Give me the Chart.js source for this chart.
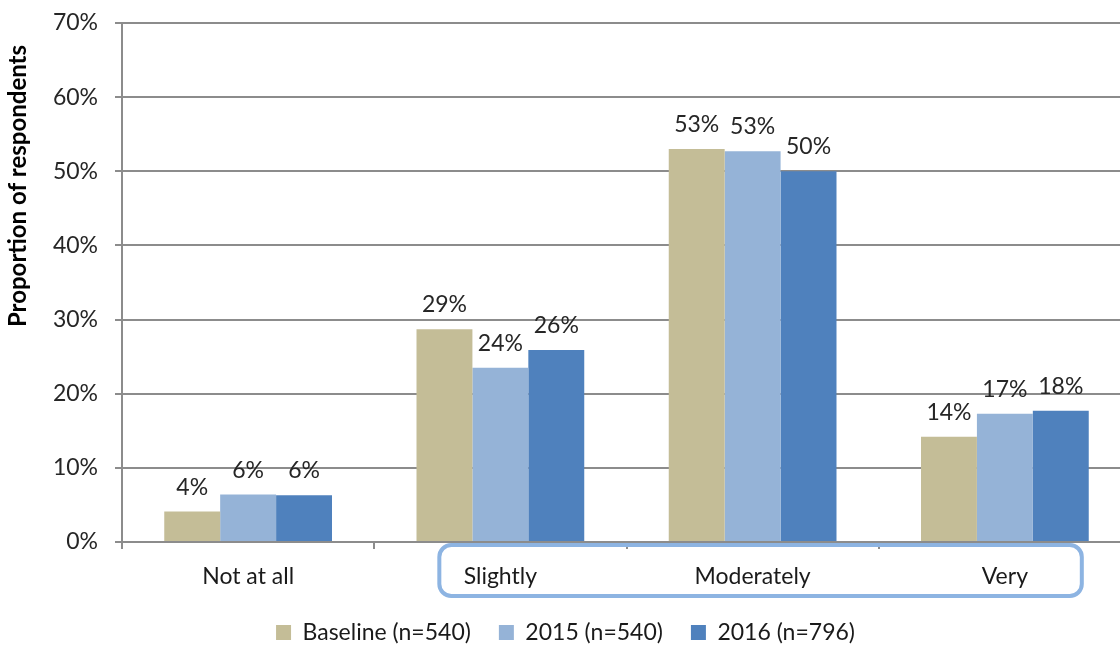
<!DOCTYPE html>
<html>
<head>
<meta charset="utf-8">
<script src="https://cdn.jsdelivr.net/npm/chart.js@4.4.1/dist/chart.umd.min.js"></script>
<style>
  html, body { margin: 0; padding: 0; background: #fff; overflow: hidden; }
  #wrap { width: 1131px; height: 646px; }
</style>
</head>
<body>
<div id="wrap"><canvas id="myChart"></canvas></div>
<script>
const categories = ["Not at all", "Slightly", "Moderately", "Very"];
const seriesNames = ["Baseline (n=540)", "2015 (n=540)", "2016 (n=796)"];
const baseline = [4.1, 28.7, 53.0, 14.2];
const y2015 = [6.4, 23.5, 52.7, 17.3];
const y2016 = [6.3, 25.9, 50.0, 17.7];
const yTicks = [0, 10, 20, 30, 40, 50, 60, 70];

const FONT = "Lato, 'Open Sans', sans-serif";

// value labels on top of each bar
const barLabels = {
  id: "barLabels",
  afterDatasetsDraw(chart) {
    const ctx = chart.ctx;
    ctx.save();
    ctx.font = "23px " + FONT;
    ctx.fillStyle = "#262626";
    ctx.textAlign = "center";
    ctx.textBaseline = "alphabetic";
    chart.data.datasets.forEach((ds, i) => {
      chart.getDatasetMeta(i).data.forEach((bar, j) => {
        ctx.fillText(Math.round(ds.data[j]) + "%", bar.x, bar.y - 17);
      });
    });
    ctx.restore();
  }
};

// rounded box around the last three category labels + y axis title
const extras = {
  id: "extras",
  afterDraw(chart) {
    const ctx = chart.ctx;
    const x = chart.scales.x;
    const step = x.getPixelForValue(1) - x.getPixelForValue(0);
    const left = x.getPixelForValue(1) - step * 0.242;
    const right = x.getPixelForValue(3) + step * 0.305;
    const top = chart.chartArea.bottom + 3;
    ctx.save();
    ctx.strokeStyle = "#8db4e2";
    ctx.lineWidth = 4;
    ctx.beginPath();
    ctx.roundRect(left, top, right - left, 51, 12);
    ctx.stroke();

    ctx.translate(18, 186);
    ctx.rotate(-Math.PI / 2);
    ctx.font = "bold 24px " + FONT;
    ctx.fillStyle = "#000";
    ctx.textAlign = "center";
    ctx.textBaseline = "middle";
    ctx.fillText("Proportion of respondents", 0, 0);
    ctx.restore();
  }
};

new Chart(document.getElementById("myChart").getContext("2d"), {
  type: "bar",
  data: {
    labels: categories,
    datasets: [
      { label: seriesNames[0], data: baseline, backgroundColor: "#c4bd97" },
      { label: seriesNames[1], data: y2015, backgroundColor: "#95b3d7" },
      { label: seriesNames[2], data: y2016, backgroundColor: "#4f81bd" }
    ]
  },
  options: {
    responsive: true,
    maintainAspectRatio: false,
    animation: false,
    categoryPercentage: 0.665,
    barPercentage: 1,
    layout: { padding: { top: 23, right: 0, left: 0, bottom: -8 } },
    scales: {
      x: {
        grid: { drawOnChartArea: false, color: "#8c8c8c", lineWidth: 2, tickLength: 7, offset: true },
        border: { color: "#8c8c8c", width: 2 },
        ticks: { color: "#1a1a1a", font: { family: FONT, size: 23 }, padding: 14 },
        afterFit(scale) { scale.height = 51; }
      },
      y: {
        min: 0,
        max: 70,
        afterBuildTicks(scale) { scale.ticks = yTicks.map(v => ({ value: v })); },
        grid: { color: "#8c8c8c", lineWidth: 2, tickLength: 7 },
        border: { color: "#8c8c8c", width: 2 },
        ticks: {
          color: "#262626",
          font: { family: FONT, size: 23 },
          padding: 17,
          callback: v => v + "%"
        },
        afterFit(scale) {
          scale.width = 122;
          scale.paddingTop = 0;
          scale.paddingBottom = 0;
        }
      }
    },
    plugins: {
      legend: {
        position: "bottom",
        labels: {
          color: "#1a1a1a",
          font: { family: FONT, size: 23 },
          boxWidth: 15,
          boxHeight: 15,
          padding: 28
        }
      },
      tooltip: { enabled: false }
    }
  },
  plugins: [barLabels, extras]
});
</script>
</body>
</html>
